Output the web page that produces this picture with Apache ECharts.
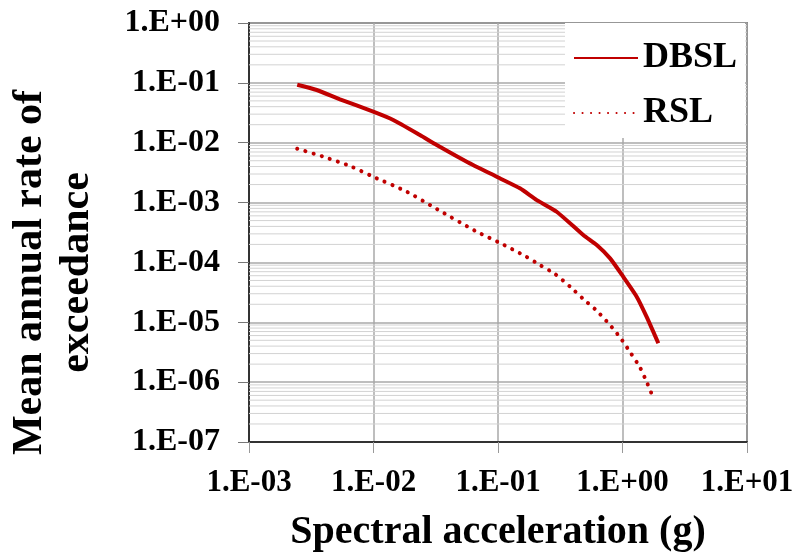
<!DOCTYPE html>
<html>
<head>
<meta charset="utf-8">
<script src="https://cdn.jsdelivr.net/npm/echarts@6/dist/echarts.min.js"></script>
<style>
    html, body { margin: 0; padding: 0; background: #fff; }
    #chart { width: 807px; height: 552px; }
</style>
</head>
<body>
<div id="chart"></div>
<script>
// hazard curves
var dbslX = [0.00244, 0.0035, 0.00538, 0.00995, 0.0144, 0.0236, 0.0322, 0.0561, 0.0977, 0.150,
    0.205, 0.296, 0.484, 0.621, 0.795, 0.991, 1.30, 1.56, 1.94];
var dbslY = [0.0932, 0.076, 0.0531, 0.033, 0.024, 0.01345, 0.00916, 0.00482, 0.0027, 0.00173,
    0.0011, 0.000703, 0.000287, 0.000195, 0.000117, 6.17e-5, 2.68e-5, 1.24e-5, 4.46e-6];

var rslX = [0.00244, 0.00396, 0.00647, 0.00995, 0.0185, 0.0325, 0.0675, 0.105, 0.165, 0.217,
    0.287, 0.379, 0.484, 0.621, 0.784, 0.955, 1.16, 1.38, 1.59, 1.80];
var rslY = [0.00794, 0.00583, 0.00408, 0.0027, 0.00152, 0.000773, 0.000326, 0.000209, 0.000128, 9.06e-5,
    6.41e-5, 3.94e-5, 2.45e-5, 1.56e-5, 9.25e-6, 5.61e-6, 3.10e-6, 1.77e-6, 9.3e-7, 4.98e-7];

var xTickLabels = ['1.E-03', '1.E-02', '1.E-01', '1.E+00', '1.E+01'];
var yTickLabels = ['1.E-07', '1.E-06', '1.E-05', '1.E-04', '1.E-03', '1.E-02', '1.E-01', '1.E+00'];

var seriesNames = ['DBSL', 'RSL'];
var xRange = [0.001, 10];
var yRange = [1e-7, 1];
var mainColor = '#C00000';
var fontFamily = "'Liberation Serif', 'Times New Roman', serif";

function zip(xs, ys) {
    var out = [];
    for (var i = 0; i < xs.length; i++) {
        out.push([xs[i], ys[i]]);
    }
    return out;
}

// minor grid on the y axis at 2..9 x 10^n, drawn as one broken line
function minorGrid() {
    var pts = [];
    for (var d = -7; d < 0; d++) {
        for (var k = 2; k <= 9; k++) {
            var v = k * Math.pow(10, d);
            pts.push([xRange[0], v], [xRange[1], v], ['-', '-']);
        }
    }
    return pts;
}

function tickLabel(list, min) {
    return function (value) {
        var e = Math.round(Math.log10(value));
        return list[e - min] || '';
    };
}

var myChart = echarts.init(document.getElementById('chart'));
var option = {
    animation: false,
    textStyle: {fontFamily: fontFamily, fontWeight: 'bold', color: '#000'},
    grid: {
        left: 249,
        top: 23,
        right: 60,
        bottom: 110,
        outerBoundsMode: 'none',
        show: true,
        borderColor: '#333',
        borderWidth: 1.5
    },
    legend: {
        data: seriesNames,
        orient: 'vertical',
        left: 565,
        top: 23,
        padding: [17, 8, 7, 8],
        itemGap: 19,
        itemWidth: 64,
        itemHeight: 14,
        backgroundColor: '#fff',
        itemStyle: {opacity: 0},
        textStyle: {fontFamily: fontFamily, fontWeight: 'bold', fontSize: 36, color: '#000'}
    },
    xAxis: {
        type: 'log',
        logBase: 10,
        min: xRange[0],
        max: xRange[1],
        splitNumber: 4,
        name: 'Spectral acceleration (g)',
        nameLocation: 'middle',
        nameGap: 71,
        nameTextStyle: {fontFamily: fontFamily, fontWeight: 'bold', fontSize: 40, color: '#000'},
        axisLine: {lineStyle: {color: '#333', width: 2}},
        axisTick: {show: true, length: 11, lineStyle: {color: '#999'}},
        axisLabel: {
            margin: 25,
            fontFamily: fontFamily, fontWeight: 'bold', fontSize: 31, color: '#000',
            formatter: tickLabel(xTickLabels, -3)
        },
        splitLine: {show: true, lineStyle: {color: '#a8a8a8', width: 1.5}}
    },
    yAxis: {
        type: 'log',
        logBase: 10,
        min: yRange[0],
        max: yRange[1],
        splitNumber: 7,
        name: 'Mean annual rate of\nexceedance',
        nameLocation: 'middle',
        nameRotate: 90,
        nameGap: 148,
        nameTextStyle: {fontFamily: fontFamily, fontWeight: 'bold', fontSize: 42, lineHeight: 47, color: '#000', padding: [0, 80, 0, 0]},
        axisLine: {lineStyle: {color: '#333', width: 2}},
        axisTick: {show: true, length: 11, lineStyle: {color: '#777'}},
        axisLabel: {
            margin: 29,
            fontFamily: fontFamily, fontWeight: 'bold', fontSize: 32, color: '#000',
            formatter: tickLabel(yTickLabels, -7)
        },
        splitLine: {show: true, lineStyle: {color: '#a8a8a8', width: 1.5}}
    },
    series: [
        {
            name: 'minor',
            type: 'line',
            data: minorGrid(),
            z: 1,
            silent: true,
            showSymbol: false,
            symbol: 'none',
            connectNulls: false,
            lineStyle: {color: '#d2d2d2', width: 1}
        },
        {
            name: 'DBSL',
            type: 'line',
            data: zip(dbslX, dbslY),
            showSymbol: false,
            symbol: 'none',
            smooth: 0.2,
            color: mainColor,
            lineStyle: {color: mainColor, width: 4}
        },
        {
            name: 'RSL',
            type: 'line',
            data: zip(rslX, rslY),
            showSymbol: false,
            symbol: 'none',
            smooth: 0.2,
            color: mainColor,
            lineStyle: {color: mainColor, width: 4, type: [0.1, 8.4], cap: 'round'}
        }
    ]
};

myChart.setOption(option);
</script>
</body>
</html>
